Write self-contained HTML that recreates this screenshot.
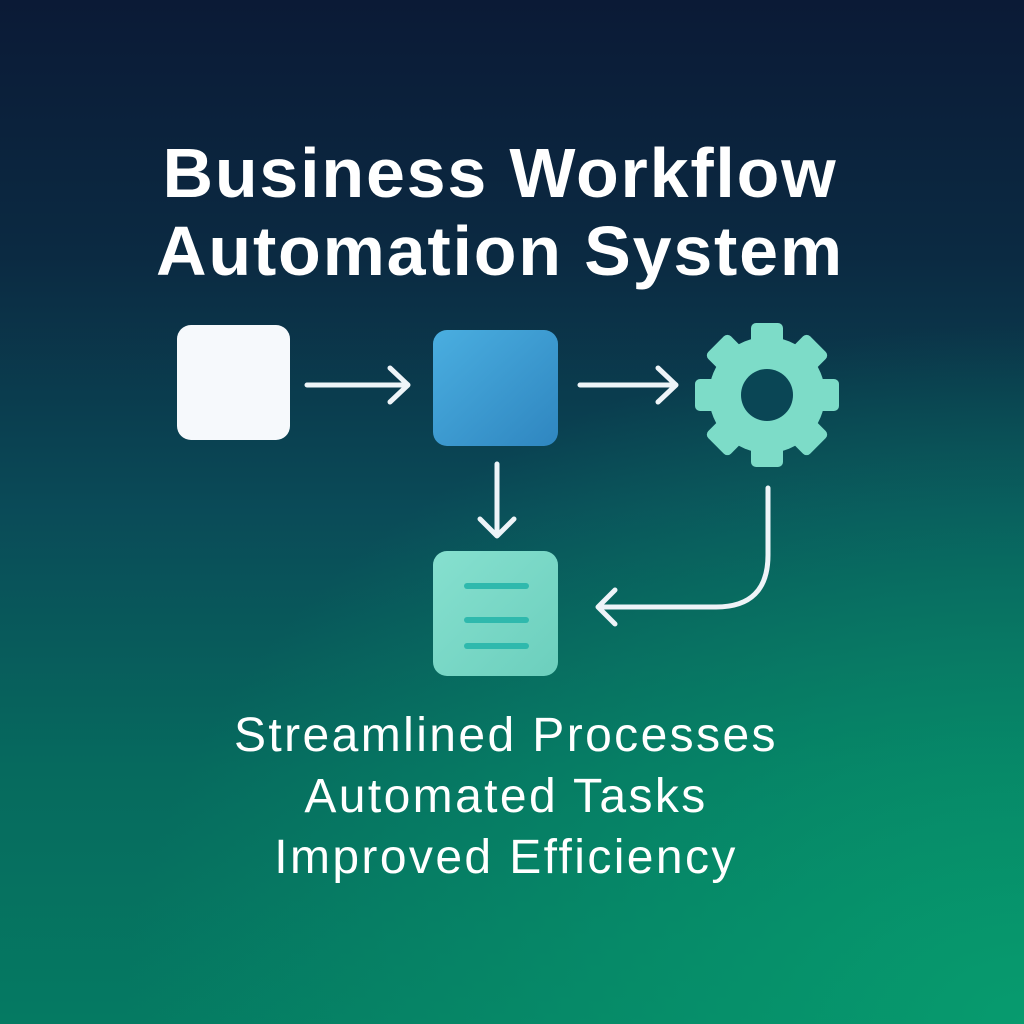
<!DOCTYPE html>
<html><head><meta charset="utf-8"><style>
html,body{margin:0;padding:0}
body{width:1024px;height:1024px;overflow:hidden;font-family:"Liberation Sans","DejaVu Sans",sans-serif;
background:radial-gradient(ellipse 900px 700px at 1024px 1024px,#079b6e 0%,rgba(7,155,110,0) 100%),linear-gradient(180deg,#0b1a36 0%,#0b2a42 25%,#0a4b58 50%,#066a5e 75%,#057a62 100%);position:relative}
.t{position:absolute;left:0;width:1024px;text-align:center;color:#fff}
</style></head><body>
<div class="t" style="top:134px;font-size:70px;font-weight:bold;line-height:78px;left:-12px;letter-spacing:1.8px">Business Workflow<br>Automation System</div>
<svg width="1024" height="1024" style="position:absolute;left:0;top:0">
<defs><linearGradient id="b" x1="0" y1="0" x2="1" y2="1"><stop offset="0" stop-color="#4aaee0"/><stop offset="1" stop-color="#2f86c0"/></linearGradient>
<linearGradient id="d" x1="0" y1="0" x2="1" y2="1"><stop offset="0" stop-color="#86e0cf"/><stop offset="1" stop-color="#6ccfbd"/></linearGradient></defs>
<rect x="177" y="325" width="113" height="115" rx="14" fill="#f6f9fc"/>
<rect x="433" y="330" width="125" height="116" rx="14" fill="url(#b)"/>
<rect x="433" y="551" width="125" height="125" rx="14" fill="url(#d)"/>
<g stroke="#2fb9ad" stroke-width="6" stroke-linecap="round"><line x1="467" y1="586" x2="526" y2="586"/><line x1="467" y1="620" x2="526" y2="620"/><line x1="467" y1="646" x2="526" y2="646"/></g>
<g fill="#7ddcc8" transform="translate(767,395)">
<circle r="58"/>
<g id="tt"><rect x="-16" y="-72" width="32" height="30" rx="5"/></g>
<use href="#tt" transform="rotate(45)"/><use href="#tt" transform="rotate(90)"/><use href="#tt" transform="rotate(135)"/><use href="#tt" transform="rotate(180)"/><use href="#tt" transform="rotate(225)"/><use href="#tt" transform="rotate(270)"/><use href="#tt" transform="rotate(315)"/>
<circle r="26" fill="#0a4655"/>
</g>
<g stroke="#eef4f8" stroke-width="5" fill="none" stroke-linecap="round" stroke-linejoin="round">
<path d="M307 385H408M390 368L408 385L390 402"/>
<path d="M580 385H676M658 368L676 385L658 402"/>
<path d="M497 464V536M480 519L497 536L514 519"/>
<path d="M768 488V555Q768 607 716 607H598M615 590L598 607L615 624"/>
</g>
</svg>
<div class="t" style="top:705px;font-size:48px;line-height:61px;left:-6px;letter-spacing:2.4px">Streamlined Processes<br>Automated Tasks<br>Improved Efficiency</div>
</body></html>
